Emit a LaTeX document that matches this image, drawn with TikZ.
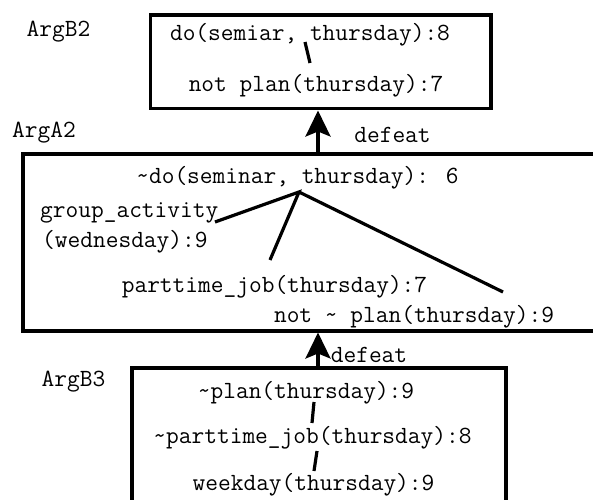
\documentclass[tikz,border=0pt]{standalone}
\usetikzlibrary{arrows.meta}
\begin{document}
\begin{tikzpicture}[x=1bp,y=-1bp,
  argbox/.style={draw=black,line width=3.4bp},
  link/.style={draw=black,line width=3.2bp},
  defeatarrow/.style={draw=black,line width=3.2bp,
    -{Stealth[length=26bp,width=25bp,inset=5bp]}},
  lit/.style={inner sep=0pt,font=\fontsize{24.8}{26}\selectfont\ttfamily},
  tag/.style={inner sep=0pt,font=\fontsize{24.8}{26}\selectfont\ttfamily}]
\useasboundingbox (0,0) rectangle (593,500);
\clip (0,0) rectangle (593,500);

% argument boxes
\draw[argbox] (150.5,15) rectangle (491,108.5);
\draw[argbox] (23,154) rectangle (610,331);
\draw[argbox] (132,368) rectangle (506,520);

% argument names
\node[tag] (argb2) at (58.5,32) {ArgB2};
\node[tag] (arga2) at (44,133) {ArgA2};
\node[tag] (argb3) at (73.5,382) {ArgB3};

% ArgB2
\node[lit] (b2top) at (310,35) {do(semiar, thursday):8};
\node[lit] (b2bot) at (316,86) {not plan(thursday):7};
\coordinate (b2s) at (305,42);
\coordinate (b2e) at (310,63);
\draw[link] (b2s) -- (b2e);

% ArgA2
\node[lit] (a2top) at (297.5,178) {\textasciitilde do(seminar, thursday): 6};
\node[lit,anchor=west] (a2grp) at (40,213) {group\_activity};
\node[lit,anchor=west] (a2wed) at (42,242) {(wednesday):9};
\node[lit] (a2job) at (274.5,287) {parttime\_job(thursday):7};
\node[lit] (a2plan) at (414,317) {not \textasciitilde{} plan(thursday):9};
\coordinate (a2root) at (299,192);
\coordinate (a2g) at (215,222);
\coordinate (a2j) at (270,260);
\coordinate (a2p) at (503,292);
\draw[link,line join=miter] (a2g) -- (a2root) -- (a2j);
\draw[link] (a2root) -- (a2p);

% ArgB3
\node[lit] (b3top) at (306,393) {\textasciitilde plan(thursday):9};
\node[lit] (b3mid) at (312.5,438) {\textasciitilde parttime\_job(thursday):8};
\node[lit] (b3bot) at (313.5,485) {weekday(thursday):9};
\coordinate (b3s1) at (314,402);
\coordinate (b3e1) at (312,423);
\coordinate (b3s2) at (317,451);
\coordinate (b3e2) at (314,471);
\draw[link] (b3s1) -- (b3e1);
\draw[link] (b3s2) -- (b3e2);

% defeat relations
\coordinate (a2in) at (318,154);
\coordinate (b2in) at (318,110.5);
\coordinate (b3out) at (318,368);
\coordinate (a2low) at (318,332.5);
\draw[defeatarrow] (a2in) -- (b2in);
\draw[defeatarrow] (b3out) -- (a2low);
\node[lit] (d1) at (392.5,135) {defeat};
\node[lit] (d2) at (369,355) {defeat};
\end{tikzpicture}
\end{document}
